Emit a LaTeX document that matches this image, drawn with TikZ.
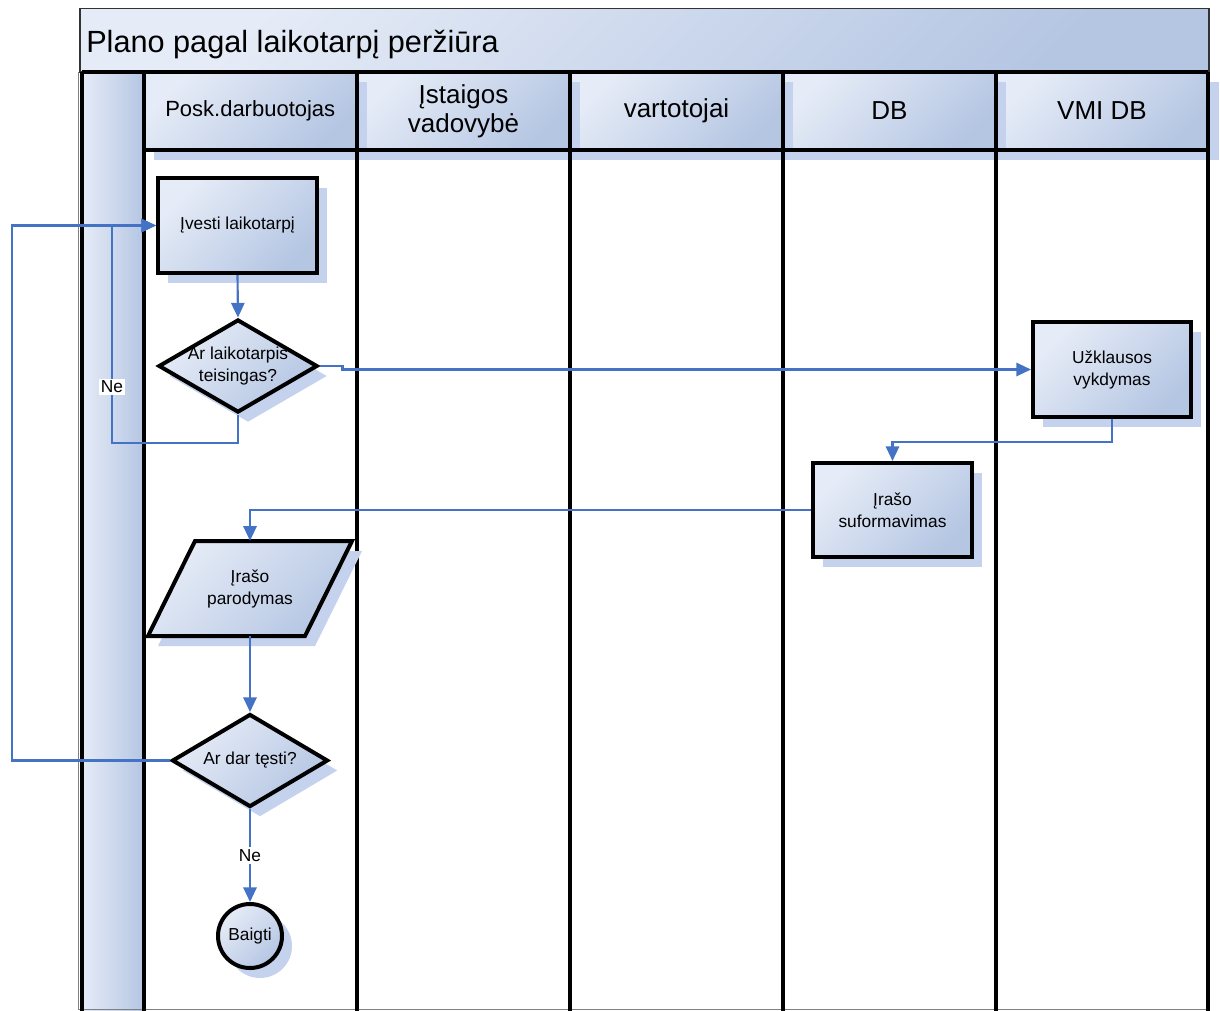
\documentclass[tikz,border=0pt]{standalone}
\usepackage{fontspec}
\setmainfont{Liberation Sans}
\usetikzlibrary{shapes.geometric,arrows.meta,shadows}

\definecolor{sviesi}{RGB}{230,236,247}
\definecolor{tamsi}{RGB}{181,198,227}
\definecolor{linija}{RGB}{68,114,196}
\definecolor{seselspalva}{RGB}{196,210,237}

\begin{document}
\begin{tikzpicture}[x=0.75pt,y=0.75pt,yscale=-1,xscale=1,
  gradientas/.style={top color=sviesi, bottom color=tamsi, shading angle=45},
  blokas/.style={draw=black, line width=3pt, gradientas, inner sep=0pt, align=center, font=\fontsize{13}{16.5}\selectfont},
  antraste/.style={gradientas, inner sep=0pt, align=center, minimum width=159.75pt, minimum height=58.5pt, font=\fontsize{19.5}{22}\selectfont},
  seselis/.style={general shadow={shadow xshift=7.5pt, shadow yshift=-7.5pt, fill=seselspalva}},
  riba/.style={line width=3pt},
  jungtis/.style={draw=linija, line width=1.6pt, -{Triangle[length=11pt,width=10pt]}},
  zyme/.style={fill=white, inner sep=1.5pt, font=\fontsize{13}{16.5}\selectfont}]
\useasboundingbox (0,0) rectangle (1220,1010);

%Title band
\draw [draw=black!80, line width=1pt, gradientas] (80,8.5) rectangle (1209,72) ;
\node [anchor=base west, inner sep=0pt, font=\fontsize{23}{27}\selectfont] (pavadinimas) at (86,52) {Plano pagal laikotarpį peržiūra};
%Left band
\draw [gray, line width=1pt] (78.5,72) -- (78.5,1010) ;
\fill [left color=sviesi, right color=tamsi] (81.5,72) rectangle (143.5,1013) ;
\draw [gray, line width=1pt] (78.5,1009.5) -- (1210,1009.5) ;

%Lane headers (right to left, so shadows overlap)
\node [antraste, seselis] (stulp5) at (1102,111) {VMI DB};
\node [antraste, seselis] (stulp4) at (889.5,111) {DB};
\node [antraste, seselis] (stulp3) at (676.5,111) {vartotojai};
\node [antraste, seselis] (stulp2) at (463.5,111) {Įstaigos\\vadovybė};
\node [antraste, seselis, font=\fontsize{16.5}{20}\selectfont] (stulp1) at (250.25,111) {Posk.darbuotojas};

%Lane lines
\draw [riba] (81.5,72) -- (1208,72) ;
\draw [riba] (143.5,150) -- (1208,150) ;
\draw [riba] (81.5,72) -- (81.5,1013) ;
\draw [riba] (143.5,72) -- (143.5,1013) ;
\draw [riba] (357,72) -- (357,1013) ;
\draw [riba] (570,72) -- (570,1013) ;
\draw [riba] (783,72) -- (783,1013) ;
\draw [riba] (996,72) -- (996,1013) ;
\draw [riba] (1208,72) -- (1208,1013) ;

%Process steps
\node [blokas, seselis, minimum width=119.25pt, minimum height=71.25pt] (ivesti) at (237.5,225.5) {Įvesti laikotarpį};
\node [blokas, seselis, diamond, minimum width=119.25pt, minimum height=69.75pt, label={[align=center, font=\fontsize{13}{16.5}\selectfont]center:Ar laikotarpis\\teisingas?}] (klaus1) at (238,366) {};
\node [blokas, seselis, minimum width=118.5pt, minimum height=71.25pt] (uzkl) at (1112,369.5) {Užklausos\\vykdymas};
\node [blokas, seselis, minimum width=119.25pt, minimum height=70.5pt] (irsuf) at (892.5,510) {Įrašo\\suformavimas};
%Shape: Parallelogram
\fill [seselspalva] (205,551) -- (362,551) -- (315,646) -- (158,646) -- cycle ;
\draw [riba, gradientas] (195,541) -- (352,541) -- (305,636) -- (148,636) -- cycle ;
\node [align=center, inner sep=0pt, minimum width=117.75pt, minimum height=71.25pt, font=\fontsize{13}{16.5}\selectfont] (irpar) at (250,588.5) {Įrašo\\parodymas};
\node [blokas, seselis, diamond, minimum width=117pt, minimum height=69.75pt, label={[font=\fontsize{13}{16.5}\selectfont]center:Ar dar tęsti?}] (klaus2) at (250,760.5) {};
\node [blokas, seselis, circle, minimum size=48pt] (baigti) at (250,936) {Baigti};

%Connectors
\coordinate (kairys1) at (112,443);
\coordinate (kairys2) at (12,225.5);
\draw [jungtis] (ivesti.south) -- (klaus1.north) ;
\draw [jungtis] (klaus1.east) -- ++(23,0) |- (uzkl.west) ;
\draw [jungtis] (klaus1.south) |- (kairys1) |- (ivesti.west) ;
\draw [jungtis] (uzkl.south) -- ++(0,23) -| (irsuf.north) ;
\draw [jungtis] (irsuf.west) -| (irpar.north) ;
\draw [jungtis] (irpar.south) -- (klaus2.north) ;
\draw [jungtis] (klaus2.west) -| (kairys2) -- (ivesti.west) ;
\draw [jungtis] (klaus2.south) -- node [zyme] (ne2) {Ne} (baigti.north) ;

% Text Node
\node [zyme] (ne1) at (112,387) {Ne};

\end{tikzpicture}
\end{document}
